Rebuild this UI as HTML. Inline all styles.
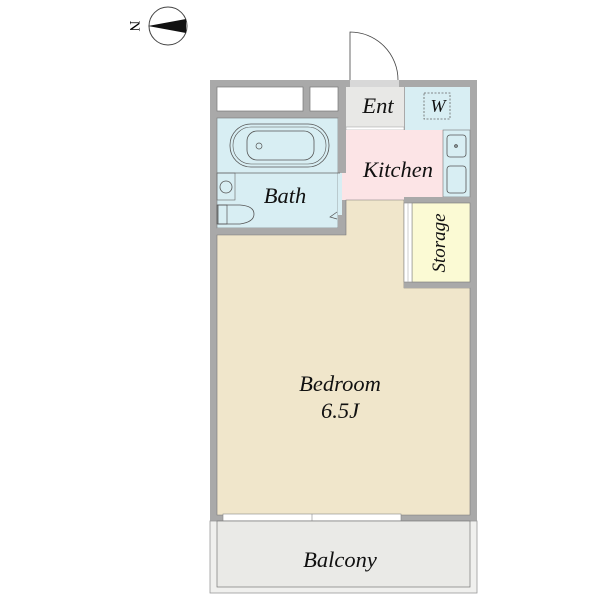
<!DOCTYPE html>
<html><head><style>body{margin:0;background:#fff}svg{display:block}</style></head><body>
<svg width="600" height="600" xmlns="http://www.w3.org/2000/svg" font-family="Liberation Serif, serif" font-style="italic">
<!-- compass -->
<circle cx="168" cy="26" r="19" fill="#fff" stroke="#444" stroke-width="1"/>
<polygon points="148,26 186,19 186,33" fill="#111"/>
<text x="135" y="26" font-size="15" font-style="normal" text-anchor="middle" transform="rotate(90 135 26)" dy="5">N</text>
<!-- outer walls -->
<rect x="210" y="80" width="267" height="441" fill="#a9a9a9"/>
<!-- top boxes -->
<rect x="217" y="87" width="86" height="24" fill="#fff" stroke="#777" stroke-width="0.7"/>
<rect x="310" y="87" width="28" height="24" fill="#fff" stroke="#777" stroke-width="0.7"/>
<!-- ent -->
<rect x="346" y="87" width="58" height="40" fill="#e8e8e6"/>
<rect x="346" y="127" width="58" height="3" fill="#fff" stroke="#999" stroke-width="0.5"/>
<rect x="350" y="80" width="49" height="7" fill="#d8d8d8"/>
<path d="M350 80 V32 A48 48 0 0 1 398 80" fill="none" stroke="#444" stroke-width="0.8"/>
<!-- W -->
<rect x="405" y="87" width="65" height="43" fill="#d8eef3"/>
<rect x="424" y="93" width="26" height="26" fill="none" stroke="#666" stroke-width="0.8" stroke-dasharray="2,1.5"/>
<!-- kitchen -->
<rect x="340" y="130" width="103" height="70" fill="#fce4e6"/>
<rect x="443" y="130" width="27" height="67" fill="#d8eef3" stroke="#777" stroke-width="0.6"/>
<rect x="447" y="135" width="19" height="22" rx="3" fill="none" stroke="#555" stroke-width="0.8"/>
<circle cx="456" cy="146" r="1.3" fill="none" stroke="#444"/>
<rect x="447" y="166" width="19" height="27" rx="3" fill="none" stroke="#555" stroke-width="0.8"/>
<!-- bath -->
<rect x="217" y="118" width="121" height="110" fill="#d8eef3" stroke="#777" stroke-width="0.6"/>
<rect x="338" y="173" width="4" height="55" fill="#d8eef3"/>
<rect x="217" y="228" width="129" height="7" fill="#a9a9a9"/>
<rect x="338" y="118" width="8" height="55" fill="#a9a9a9"/>
<rect x="338" y="215" width="8" height="13" fill="#a9a9a9"/>
<line x1="217" y1="173" x2="340" y2="173" stroke="#666" stroke-width="0.7"/>
<rect x="230" y="124" width="99" height="43" rx="21" fill="none" stroke="#555" stroke-width="0.8"/>
<rect x="233" y="127" width="93" height="37" rx="18" fill="none" stroke="#555" stroke-width="0.6"/>
<rect x="247" y="131" width="67" height="29" rx="10" fill="none" stroke="#555" stroke-width="0.8"/>
<circle cx="259" cy="146" r="3" fill="none" stroke="#555" stroke-width="0.7"/>
<rect x="217" y="173" width="18" height="27" fill="none" stroke="#666" stroke-width="0.6"/>
<circle cx="226" cy="187" r="6" fill="none" stroke="#555" stroke-width="0.8"/>
<path d="M218 205 H240 Q254 206 254 214 Q254 222 240 224 H218 Z" fill="none" stroke="#555" stroke-width="0.8"/>
<rect x="217" y="205" width="10" height="19" fill="none" stroke="#555" stroke-width="0.7"/>
<path d="M337 212 L330 217 L337 219" fill="none" stroke="#555" stroke-width="0.7"/>
<!-- bedroom -->
<path d="M217 235 H346 V200 H404 V288 H470 V515 H217 Z" fill="#f0e6cb" stroke="#777" stroke-width="0.6"/>
<!-- storage -->
<rect x="404" y="197" width="66" height="6" fill="#a9a9a9"/>
<rect x="404" y="282" width="66" height="6" fill="#a9a9a9"/>
<rect x="412" y="203" width="58" height="79" fill="#fbfad4" stroke="#777" stroke-width="0.6"/>
<rect x="404" y="203" width="8" height="79" fill="#fff" stroke="#888" stroke-width="0.6"/>
<line x1="408" y1="203" x2="408" y2="282" stroke="#aaa" stroke-width="0.6"/>
<!-- balcony door -->
<rect x="223" y="514" width="178" height="7" fill="#fff" stroke="#888" stroke-width="0.6"/>
<line x1="312" y1="514" x2="312" y2="521" stroke="#888" stroke-width="0.6"/>
<!-- balcony -->
<rect x="210" y="521" width="267" height="72" fill="#f0f0ee" stroke="#999" stroke-width="0.8"/>
<rect x="217" y="521" width="253" height="66" fill="#eaeae7" stroke="#777" stroke-width="0.7"/>
<!-- labels -->
<g font-size="22.5" fill="#111" text-anchor="middle">
<text x="378" y="113">Ent</text>
<text x="438" y="112" font-size="18">W</text>
<text x="398" y="177">Kitchen</text>
<text x="285" y="203">Bath</text>
<text x="0" y="0" font-size="19" transform="translate(445 243) rotate(-90)">Storage</text>
<text x="340" y="391">Bedroom</text>
<text x="340" y="418">6.5J</text>
<text x="340" y="567">Balcony</text>
</g>
</svg>
</body></html>
